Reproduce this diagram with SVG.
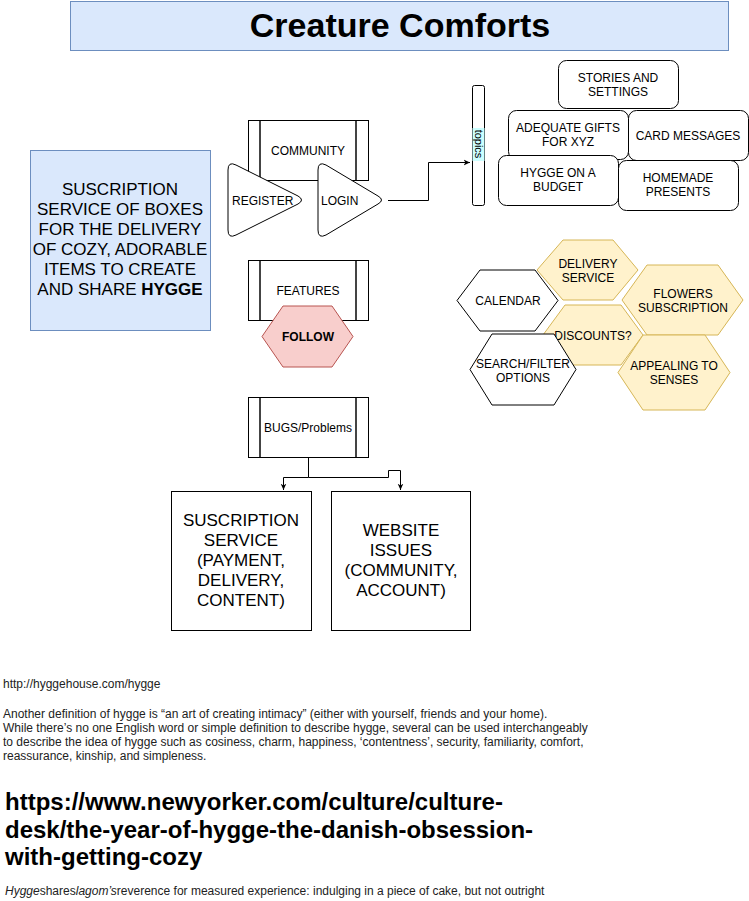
<svg xmlns="http://www.w3.org/2000/svg" width="749" height="901" viewBox="0 0 749 901">
<defs>
<style>
text{font-family:"Liberation Sans",Arial,sans-serif;fill:#000}
.c{text-anchor:middle}
.s12{font-size:12px}
.s16{font-size:17px}
.box{fill:#fff;stroke:#000;stroke-width:1}
.proc{fill:#fff;stroke:#000;stroke-width:1}
.inner{stroke:#444;stroke-width:2;fill:none}
.yel{fill:#fff2cc;stroke:#d6b656}
.hexw{fill:#fff;stroke:#000}
.conn{fill:none;stroke:#000;stroke-width:1}
.body{font-size:12px;fill:#222}
</style>
<marker id="arr" viewBox="0 0 10 10" refX="9" refY="5" markerWidth="7" markerHeight="7" orient="auto" markerUnits="userSpaceOnUse">
<path d="M0,1 L9,5 L0,9 L2.5,5 Z" fill="#000"/>
</marker>
</defs>
<rect width="749" height="901" fill="#fff"/>

<g id="title">
<rect x="70.5" y="1.5" width="658" height="49" fill="#dae8fc" stroke="#6c8ebf"/>
<text x="400" y="37" class="c" style="font-size:34px;font-weight:bold">Creature Comforts</text>
</g>

<g id="summary">
<rect x="30.5" y="150.5" width="180" height="180" fill="#dae8fc" stroke="#6c8ebf"/>
<text class="c s16" x="120" y="195">SUSCRIPTION</text>
<text class="c s16" x="120" y="215">SERVICE OF BOXES</text>
<text class="c s16" x="120" y="235">FOR THE DELIVERY</text>
<text class="c s16" x="120" y="255">OF COZY, ADORABLE</text>
<text class="c s16" x="120" y="275">ITEMS TO CREATE</text>
<text class="c s16" x="120" y="295">AND SHARE <tspan font-weight="bold">HYGGE</tspan></text>
</g>

<g id="community">
<rect class="proc" x="248.5" y="120.5" width="120" height="60"/>
<line class="inner" x1="260" y1="121" x2="260" y2="180"/>
<line class="inner" x1="356" y1="121" x2="356" y2="180"/>
<text class="c s12" x="308" y="155">COMMUNITY</text>
</g>

<g id="register">
<path class="box" d="M228,170 Q228,161 236,165 L298,196 Q305,200 298,204 L236,235 Q228,239 228,230 Z"/>
<text class="s12" x="232" y="205">REGISTER</text>
</g>

<g id="login">
<path class="box" d="M318,170 Q318,161 326,165 L378,196 Q385,200 378,204 L326,235 Q318,239 318,230 Z"/>
<text class="s12" x="321" y="205">LOGIN</text>
</g>

<g id="topics">
<rect x="472.5" y="85.5" width="12" height="120" rx="2" fill="#fff" stroke="#000"/>
<rect x="472.5" y="128" width="12" height="33" fill="#ccffff"/>
<text class="c" style="font-size:11px" transform="translate(475,144) rotate(90)">topics</text>
</g>

<g id="stories">
<rect class="box" x="558.5" y="60.5" width="120" height="48" rx="8"/>
<text class="c s12" x="618" y="82">STORIES AND</text>
<text class="c s12" x="618" y="96">SETTINGS</text>
</g>
<g id="gifts">
<rect class="box" x="508.5" y="110.5" width="120" height="49" rx="8"/>
<text class="c s12" x="568" y="132">ADEQUATE GIFTS</text>
<text class="c s12" x="568" y="146">FOR XYZ</text>
</g>
<g id="cards">
<rect class="box" x="628.5" y="110.5" width="120" height="50" rx="8"/>
<text class="c s12" x="688" y="140">CARD MESSAGES</text>
</g>
<g id="budget">
<rect class="box" x="498.5" y="155.5" width="120" height="50" rx="8"/>
<text class="c s12" x="558" y="177">HYGGE ON A</text>
<text class="c s12" x="558" y="191">BUDGET</text>
</g>
<g id="homemade">
<rect class="box" x="618.5" y="160.5" width="120" height="50" rx="8"/>
<text class="c s12" x="678" y="182">HOMEMADE</text>
<text class="c s12" x="678" y="196">PRESENTS</text>
</g>

<g id="delivery">
<polygon class="yel" points="563,240 613,240 638,270 613,300 563,300 537,270"/>
<text class="c s12" x="588" y="268">DELIVERY</text>
<text class="c s12" x="588" y="282">SERVICE</text>
</g>
<g id="calendar">
<polygon class="hexw" points="480,270 535,270 558,300.5 535,331 480,331 457,300.5"/>
<text class="c s12" x="508" y="305">CALENDAR</text>
</g>
<g id="flowers">
<polygon class="yel" points="647,265 718,265 743,300 718,335 647,335 622,300"/>
<text class="c s12" x="683" y="298">FLOWERS</text>
<text class="c s12" x="683" y="312">SUBSCRIPTION</text>
</g>
<g id="discounts">
<polygon class="yel" points="565,305 621,305 643,335 621,365 565,365 543,335"/>
<text class="c s12" x="593" y="340">DISCOUNTS?</text>
</g>
<g id="search">
<polygon class="hexw" points="492,334 554,334 576,369.5 554,405 492,405 470,369.5"/>
<text class="c s12" x="523" y="368">SEARCH/FILTER</text>
<text class="c s12" x="523" y="382">OPTIONS</text>
</g>
<g id="appealing">
<polygon class="yel" points="643,335 705,335 730,372.5 705,410 643,410 618,372.5"/>
<text class="c s12" x="674" y="370">APPEALING TO</text>
<text class="c s12" x="674" y="384">SENSES</text>
</g>

<g id="features">
<rect class="proc" x="248.5" y="260.5" width="120" height="60"/>
<line class="inner" x1="260" y1="261" x2="260" y2="320"/>
<line class="inner" x1="356" y1="261" x2="356" y2="320"/>
<text class="c s12" x="308" y="295">FEATURES</text>
</g>
<g id="follow">
<polygon fill="#f8cecc" stroke="#b85450" points="283,306 332,306 353,336.5 332,367 283,367 262,336.5"/>
<text class="c s12" x="308" y="341" font-weight="bold">FOLLOW</text>
</g>

<g id="bugs">
<rect class="proc" x="248.5" y="397.5" width="120" height="60"/>
<line class="inner" x1="260" y1="398" x2="260" y2="457"/>
<line class="inner" x1="356" y1="398" x2="356" y2="457"/>
<text class="c s12" x="308" y="432">BUGS/Problems</text>
</g>

<g id="subscription-issues">
<rect class="box" x="171.5" y="491.5" width="140" height="139"/>
<text class="c s16" x="241" y="526">SUSCRIPTION</text>
<text class="c s16" x="241" y="546">SERVICE</text>
<text class="c s16" x="241" y="566">(PAYMENT,</text>
<text class="c s16" x="241" y="586">DELIVERY,</text>
<text class="c s16" x="241" y="606">CONTENT)</text>
</g>
<g id="website-issues">
<rect class="box" x="331.5" y="491.5" width="139" height="139"/>
<text class="c s16" x="401" y="536">WEBSITE</text>
<text class="c s16" x="401" y="556">ISSUES</text>
<text class="c s16" x="401" y="576">(COMMUNITY,</text>
<text class="c s16" x="401" y="596">ACCOUNT)</text>
</g>

<g id="connectors">
<path class="conn" d="M388,200.5 H428.5 V162.5 H470" marker-end="url(#arr)"/>
<path class="conn" d="M308.5,457 V477.5 H283.5 V490" marker-end="url(#arr)"/>
<path class="conn" d="M308.5,477.5 H388.5 V470.5 H400.5 V490" marker-end="url(#arr)"/>
</g>

<g id="notes">
<text class="body" x="3" y="688">http://hyggehouse.com/hygge</text>
<text class="body" x="3" y="718">Another definition of hygge is “an art of creating intimacy” (either with yourself, friends and your home).</text>
<text class="body" x="3" y="732">While there’s no one English word or simple definition to describe hygge, several can be used interchangeably</text>
<text class="body" x="3" y="746">to describe the idea of hygge such as cosiness, charm, happiness, ‘contentness’, security, familiarity, comfort,</text>
<text class="body" x="3" y="760">reassurance, kinship, and simpleness.</text>
<text x="5" y="810" style="font-size:24px;font-weight:bold">https://www.newyorker.com/culture/culture-</text>
<text x="5" y="838" style="font-size:24px;font-weight:bold">desk/the-year-of-hygge-the-danish-obsession-</text>
<text x="5" y="865" style="font-size:24px;font-weight:bold">with-getting-cozy</text>
<text class="body" x="5" y="895"><tspan font-style="italic">Hygge</tspan>shares<tspan font-style="italic">lagom’s</tspan>reverence for measured experience: indulging in a piece of cake, but not outright</text>
</g>
</svg>
